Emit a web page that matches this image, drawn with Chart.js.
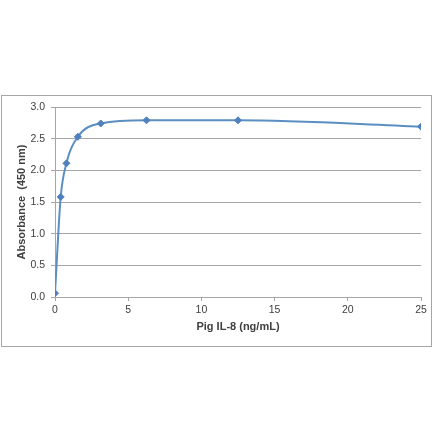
<!DOCTYPE html>
<html>
<head>
<meta charset="utf-8">
<script src="https://cdn.jsdelivr.net/npm/chart.js@4/dist/chart.umd.min.js"></script>
<style>
html,body{margin:0;padding:0;background:#fff;}
#wrap{width:440px;height:441px;position:relative;}
</style>
</head>
<body>
<div id="wrap"><canvas id="c" width="440" height="441"></canvas></div>
<script>
const concentrations = [0, 0.39, 0.78, 1.5625, 3.125, 6.25, 12.5, 25];
const absorbance = [0.06, 1.58, 2.11, 2.53, 2.74, 2.79, 2.79, 2.69];
const xTicks = [0, 5, 10, 15, 20, 25];
const yTicks = [0.0, 0.5, 1.0, 1.5, 2.0, 2.5, 3.0];
const xTitle = 'Pig IL-8 (ng/mL)';
const yTitle = 'Absorbance  (450 nm)';

const points = concentrations.map((x, i) => ({x: x, y: absorbance[i]}));

const frame = {
  id: 'frame',
  beforeDraw(chart) {
    const ctx = chart.ctx;
    ctx.save();
    ctx.fillStyle = '#ffffff';
    ctx.fillRect(0, 0, chart.width, chart.height);
    ctx.strokeStyle = '#a6a6a6';
    ctx.lineWidth = 1;
    ctx.strokeRect(1.5, 95.5, 430, 251);
    ctx.restore();
  }
};

const textColor = '#404040';
const gridColor = '#a6a6a6';

new Chart(document.getElementById('c'), {
  type: 'scatter',
  data: {
    datasets: [{
      data: points,
      showLine: true,
      borderColor: '#5b8fc2',
      backgroundColor: '#4f81bd',
      borderWidth: 2,
      cubicInterpolationMode: 'monotone',
      pointStyle: 'rectRot',
      pointRadius: 3.5,
      pointBorderWidth: 1,
      pointBorderColor: '#4f81bd',
      pointBackgroundColor: '#4f81bd'
    }]
  },
  options: {
    responsive: false,
    animation: false,
    devicePixelRatio: 1,
    layout: {padding: {left: 0, top: 107, right: 19, bottom: 94}},
    plugins: {legend: {display: false}, tooltip: {enabled: false}},
    scales: {
      x: {
        type: 'linear',
        min: 0, max: 25,
        afterFit(s) { s.height = 50; },
        afterBuildTicks(s) { s.ticks = xTicks.map(v => ({value: v})); },
        ticks: {color: textColor, font: {family: 'Liberation Sans, Arial', size: 10.5}, padding: 3, maxRotation: 0},
        grid: {drawOnChartArea: false, drawTicks: true, tickLength: 4, color: gridColor},
        border: {display: true, color: gridColor, width: 1},
        title: {display: true, text: xTitle, color: textColor, font: {family: 'Liberation Sans, Arial', size: 11, weight: 'bold'}, padding: {top: 4, bottom: 13}}
      },
      y: {
        type: 'linear',
        min: 0, max: 3,
        afterFit(s) { s.width = 55; },
        afterBuildTicks(s) { s.ticks = yTicks.map(v => ({value: v})); },
        ticks: {color: textColor, font: {family: 'Liberation Sans, Arial', size: 10.5}, padding: 6, callback: v => v.toFixed(1)},
        grid: {color: gridColor, drawTicks: true, tickLength: 4, lineWidth: 1},
        border: {display: true, color: gridColor, width: 1},
        title: {display: true, text: yTitle, color: textColor, font: {family: 'Liberation Sans, Arial', size: 11, weight: 'bold'}, padding: {top: 15, bottom: 0}}
      }
    }
  },
  plugins: [frame]
});
</script>
</body>
</html>
